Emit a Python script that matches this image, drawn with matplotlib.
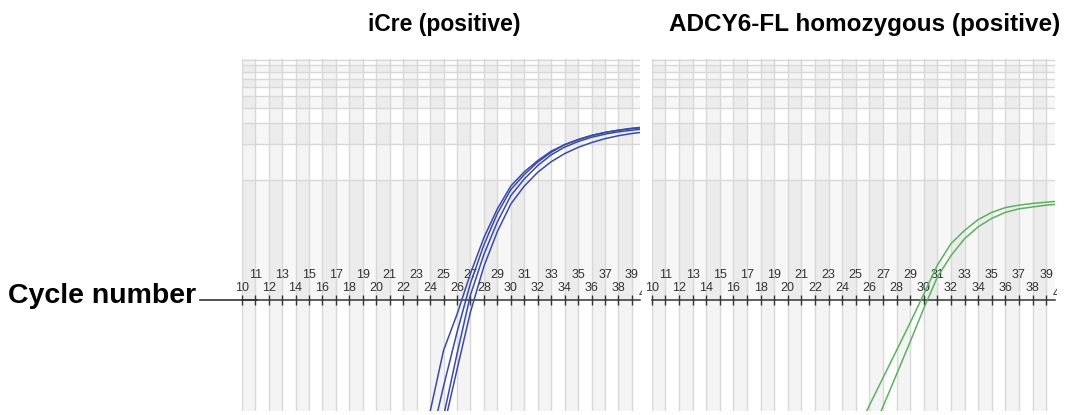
import matplotlib
matplotlib.use("Agg")
import matplotlib.pyplot as plt
from matplotlib.ticker import FixedLocator
from matplotlib.transforms import blended_transform_factory, Bbox, TransformedBbox
from matplotlib.lines import Line2D

plt.rcParams['font.family'] = ['Liberation Sans', 'DejaVu Sans']

W, H = 1073, 415

# Normalised fluorescence per cycle (log-scale amplification plot)
cycles_icre = list(range(23, 41))
icre_well_1 = [0.00316, 0.0117, 0.0380, 0.0759, 0.166, 0.331, 0.575, 0.891, 1.17,
               1.45, 1.74, 1.97, 2.17, 2.35, 2.49, 2.60, 2.70, 2.77]
icre_well_2 = [0.0020, 0.00631, 0.0191, 0.0537, 0.138, 0.288, 0.525, 0.832, 1.11,
               1.41, 1.70, 1.97, 2.17, 2.35, 2.49, 2.60, 2.68, 2.74]
icre_well_3 = [0.0012, 0.00355, 0.0107, 0.0355, 0.110, 0.240, 0.447, 0.741, 1.02,
               1.32, 1.62, 1.88, 2.09, 2.27, 2.41, 2.52, 2.60, 2.67]
icre_well_4 = [0.0009, 0.00251, 0.00851, 0.0263, 0.0794, 0.191, 0.372, 0.631, 0.89,
               1.16, 1.42, 1.66, 1.87, 2.05, 2.21, 2.34, 2.44, 2.52]

cycles_adcy6 = list(range(25, 41))
adcy6_well_1 = [0.00759, 0.0132, 0.0224, 0.0380, 0.0646, 0.112, 0.195, 0.295,
                0.380, 0.468, 0.537, 0.589, 0.617, 0.638, 0.653, 0.668]
adcy6_well_2 = [0.00398, 0.00692, 0.0129, 0.0240, 0.0447, 0.0851, 0.155, 0.234,
                0.324, 0.407, 0.479, 0.537, 0.575, 0.596, 0.617, 0.631]

tick_cycles = list(range(10, 41))
gridline_levels = [1, 2, 3, 4, 5, 6, 7, 8, 9, 10]
shaded_rows = [(0.1, 1), (2, 3), (4, 5), (6, 7), (8, 9)]
threshold = 0.1

titles = ["iCre (positive)", "ADCY6-FL homozygous (positive)"]
axis_label = "Cycle number"

BLUE = "#3a4ba6"
GREEN = "#5cb160"
INK = "#333333"

fig = plt.figure(figsize=(W / 100, H / 100), dpi=100)

y_lo, y_hi = 10 ** (-231 / 120), 10 ** (121 / 120)


def panel(left_px, right_px, xmax):
    ax = fig.add_axes([left_px / W, 4 / H, (right_px - left_px) / W, (415 - 4 - 59) / H])
    ax.set_yscale('log')
    ax.set_xlim(10, xmax)
    ax.set_ylim(y_lo, y_hi)
    ax.set_facecolor('white')
    for c in range(10, 40, 2):
        ax.axvspan(c, c + 1, color='black', alpha=0.042, lw=0, zorder=0)
    for lo, hi in shaded_rows:
        ax.axhspan(lo, hi, color='black', alpha=0.03, lw=0, zorder=0)
    for c in tick_cycles:
        ax.axvline(c, color='#d8d8d8', lw=1.0, zorder=0.5)
    for v in gridline_levels:
        ax.axhline(v, color='#d8d8d8', lw=1.0, zorder=0.5)

    for s in ['left', 'right', 'bottom']:
        ax.spines[s].set_visible(False)
    ax.spines['top'].set_position(('data', threshold))
    ax.spines['top'].set_color(INK)
    ax.spines['top'].set_linewidth(1.1)
    ax.spines['top'].set_zorder(2.5)
    ax.tick_params(axis='y', which='both', left=False, labelleft=False)
    ax.xaxis.set_ticks_position('top')
    ax.xaxis.set_major_locator(FixedLocator([c for c in tick_cycles if c % 2 == 0]))
    ax.xaxis.set_minor_locator(FixedLocator([c for c in tick_cycles if c % 2 == 1]))
    ax.xaxis.set_major_formatter(plt.FuncFormatter(lambda v, p: f"{int(v)}"))
    ax.xaxis.set_minor_formatter(plt.FuncFormatter(lambda v, p: f"{int(v)}"))
    ax.tick_params(axis='x', which='both', direction='inout', length=7, width=1,
                   color=INK, top=True, bottom=False, labeltop=True, labelbottom=False,
                   labelsize=9, labelcolor=INK)
    ax.tick_params(axis='x', which='major', pad=0.5)
    ax.tick_params(axis='x', which='minor', pad=10)
    # last label sits just past the plotting area and is cut at its edge
    t = ax.text(40, threshold, "40", transform=ax.transData,
                ha='center', va='bottom', fontsize=9, color=INK)
    t.set_clip_box(TransformedBbox(Bbox([[0, 0], [1.006, 1]]), ax.transAxes))
    t.set_clip_on(True)
    return ax


ax1 = panel(241.7, 640, 39.6)
ax2 = panel(651.7, 1055, 39.65)

for vals in (icre_well_1, icre_well_2, icre_well_3, icre_well_4):
    ax1.plot(cycles_icre, vals, color=BLUE, lw=1.1, zorder=3)
for vals in (adcy6_well_1, adcy6_well_2):
    ax2.plot(cycles_adcy6, vals, color=GREEN, lw=1.1, zorder=3)

fig.text(444 / W, 1 - 25 / H, titles[0], ha='center', va='center',
         fontsize=16.5, fontweight='bold')
fig.text(864.5 / W, 1 - 25 / H, titles[1], ha='center', va='center',
         fontsize=17.5, fontweight='bold')

fig.text(8 / W, 1 - 296 / H, axis_label, ha='left', va='center',
         fontsize=20.5, fontweight='bold')
tr = blended_transform_factory(fig.transFigure, ax1.transData)
fig.add_artist(Line2D([200 / W, 257 / W], [threshold, threshold], transform=tr,
                      color=INK, lw=1.2))

fig.savefig("out.png", dpi=100)
